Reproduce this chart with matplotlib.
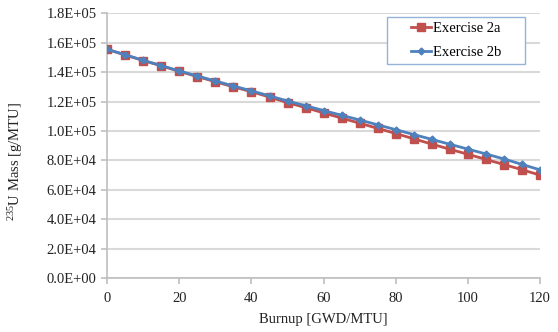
import matplotlib
matplotlib.use("Agg")
import matplotlib.pyplot as plt
from matplotlib.ticker import FuncFormatter, MultipleLocator
from matplotlib.patches import Rectangle

burnup = [0, 5, 10, 15, 20, 25, 30, 35, 40, 45, 50, 55, 60, 65, 70, 75, 80, 85, 90, 95, 100, 105, 110, 115, 120]
ex2a = [155500, 151700, 147900, 144300, 140500, 137000, 133500, 130000, 126700, 123100, 119300, 115900, 112300,
        108800, 105300, 101800, 98300, 94700, 91100, 87600, 84200, 80700, 77200, 73700, 70000]
ex2b = [155500, 151800, 148000, 144500, 140800, 137400, 134000, 130600, 127300, 123900, 120400, 117200, 113900,
        110700, 107500, 104200, 100900, 97600, 94300, 91000, 87700, 84400, 81000, 77300, 73600]
labels = ["Exercise 2a", "Exercise 2b"]

plt.rcParams['font.family'] = ['Liberation Serif', 'DejaVu Serif']
plt.rcParams['mathtext.fontset'] = 'custom'
plt.rcParams['mathtext.rm'] = 'Liberation Serif'
plt.rcParams['mathtext.it'] = 'Liberation Serif:italic'

fig = plt.figure(figsize=(5.58, 3.32), dpi=100)
ax = fig.add_axes([0.192, 0.162, 0.776, 0.798])

red = '#C0504D'
blue = '#4F81BD'
ax.plot(burnup, ex2a, color=red, lw=2, marker='s', ms=5.5, label=labels[0], zorder=3)
ax.plot(burnup, ex2b, color=blue, lw=2, marker='D', ms=3.5, label=labels[1], zorder=4)

ax.set_xlim(0, 120)
ax.set_ylim(0, 180000)
ax.xaxis.set_major_locator(MultipleLocator(20))
ax.yaxis.set_major_locator(MultipleLocator(20000))
ax.yaxis.set_major_formatter(FuncFormatter(lambda v, p: '%.1E' % v))

ax.grid(axis='y', color='#D9D9D9', lw=1.5, zorder=0)
ax.set_axisbelow(True)
for s in ['top', 'right']:
    ax.spines[s].set_visible(False)
for s in ['left', 'bottom']:
    ax.spines[s].set_color('#BFBFBF')
    ax.spines[s].set_linewidth(1.2)
ax.tick_params(axis='both', colors='#BFBFBF', labelcolor='#222222', labelsize=10.5, length=4, width=1.2)
ax.tick_params(axis='x', pad=6)

ax.set_xlabel('Burnup [GWD/MTU]', fontsize=10.5, color='#222222', labelpad=6)
ax.set_ylabel('$^{235}$U Mass [g/MTU]', fontsize=10.5, color='#222222')
ax.yaxis.set_label_coords(-0.19, 0.44)

# legend frame
x0, x1, y0, y1 = 0.647, 0.965, 0.808, 0.985
rect = Rectangle((x0, y0), x1 - x0, y1 - y0, transform=ax.transAxes, facecolor='white',
                 edgecolor='#95B3D7', lw=1.0, zorder=5, clip_on=False)
ax.add_patch(rect)
leg = ax.legend(loc='center', bbox_to_anchor=(0.806, (y0 + y1) / 2), frameon=False,
                fontsize=10.5, handlelength=1.4, labelspacing=0.75, handletextpad=0.1,
                borderaxespad=0, borderpad=0)
leg.set_zorder(6)

fig.savefig('out.png', dpi=100)
